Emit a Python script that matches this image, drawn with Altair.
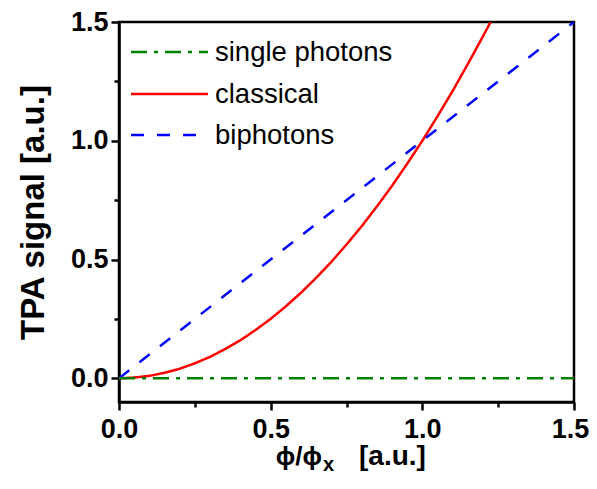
import altair as alt
import pandas as pd

# ---------------- data ----------------
series_names = ["single photons", "classical", "biphotons"]
series_colors = ["#008000", "#ff0000", "#0000ff"]
series_dashes = [[16, 7, 4, 7], [1, 0], [13, 13]]

single_x = [0.0, 1.5]
single_y = [0.0, 0.0]

classical_x = [0.0, 0.05, 0.1, 0.15, 0.2, 0.25, 0.3, 0.35, 0.4, 0.45, 0.5,
               0.55, 0.6, 0.65, 0.7, 0.75, 0.8, 0.85, 0.9, 0.95, 1.0,
               1.05, 1.1, 1.15, 1.2, 1.225]
classical_y = [0.0, 0.003, 0.01, 0.023, 0.04, 0.063, 0.09, 0.123, 0.16, 0.203, 0.25,
               0.303, 0.36, 0.423, 0.49, 0.563, 0.64, 0.723, 0.81, 0.903, 1.0,
               1.103, 1.21, 1.323, 1.44, 1.5]

biphoton_x = [0.0, 1.5]
biphoton_y = [0.0, 1.5]

x_ticks = [0.0, 0.25, 0.5, 0.75, 1.0, 1.25, 1.5]
y_ticks = [0.0, 0.25, 0.5, 0.75, 1.0, 1.25, 1.5]

x_domain = [0.0, 1.5]
y_domain = [-0.1, 1.5]

y_title = "TPA signal [a.u.]"
x_title_parts = ["\u03d5/\u03d5", "x", "[a.u.]"]

# ---------------- tables ----------------
rows = []
for xv, yv in zip(classical_x, classical_y):
    rows.append({"series": "classical", "x": xv, "y": yv})
for xv, yv in zip(biphoton_x, biphoton_y):
    rows.append({"series": "biphotons", "x": xv, "y": yv})
for xv, yv in zip(single_x, single_y):
    rows.append({"series": "single photons", "x": xv, "y": yv})
df = pd.DataFrame(rows)

FONT = "Liberation Sans"
LW = 2.5

color_scale = alt.Scale(domain=series_names, range=series_colors)
dash_scale = alt.Scale(domain=series_names, range=series_dashes)

minor_test = "datum.value % 0.5 !== 0"
label_expr = "datum.value % 0.5 === 0 ? format(datum.value, '.1f') : ''"

x_axis = alt.Axis(
    values=x_ticks, labelExpr=label_expr, title=None,
    tickSize={"condition": {"test": minor_test, "value": 5}, "value": 8},
    tickWidth=LW, tickColor="black", domainColor="black", domainWidth=LW,
    labelFont=FONT, labelFontSize=27, labelFontWeight="bold", labelColor="black",
    labelPadding=6, labelFlush=False, labelOverlap=False, grid=False,
    labelOffset={"condition": {"test": "datum.value === 1.5", "value": -4}, "value": 0},
)
y_axis = alt.Axis(
    values=y_ticks, labelExpr=label_expr, title=y_title,
    tickSize={"condition": {"test": minor_test, "value": 5}, "value": 8},
    tickWidth=LW, tickColor="black", domainColor="black", domainWidth=LW,
    labelFont=FONT, labelFontSize=27, labelFontWeight="bold", labelColor="black",
    labelPadding=3, labelFlush=False, labelOverlap=False, grid=False,
    titleFont=FONT, titleFontSize=33, titleFontWeight="bold", titleColor="black",
    titleX=-76, titleBaseline="alphabetic",
)

lines = alt.Chart(df).mark_line(strokeWidth=LW, clip=True).encode(
    x=alt.X("x:Q", scale=alt.Scale(domain=x_domain, nice=False, zero=False), axis=x_axis),
    y=alt.Y("y:Q", scale=alt.Scale(domain=y_domain, nice=False, zero=False), axis=y_axis),
    color=alt.Color("series:N", scale=color_scale, legend=None),
    strokeDash=alt.StrokeDash("series:N", scale=dash_scale, legend=None),
)

# ---------------- manual legend ----------------
legend_rows_y = [30, 72, 113]
layers = [lines]
for name, ry in zip(series_names, legend_rows_y):
    ld = pd.DataFrame({"series": [name]})
    layers.append(
        alt.Chart(ld).mark_rule(strokeWidth=LW).encode(
            x=alt.value(12), x2=alt.value(89), y=alt.value(ry),
            color=alt.Color("series:N", scale=color_scale, legend=None),
            strokeDash=alt.StrokeDash("series:N", scale=dash_scale, legend=None),
        )
    )
    layers.append(
        alt.Chart(ld).mark_text(align="left", baseline="middle", font=FONT,
                                fontSize=27.5, color="black").encode(
            x=alt.value(96), y=alt.value(ry + 1), text="series:N"
        )
    )

# ---------------- x-axis title with subscript ----------------
t1 = pd.DataFrame({"t": [x_title_parts[0]]})
t2 = pd.DataFrame({"t": [x_title_parts[1]]})
t3 = pd.DataFrame({"t": [x_title_parts[2]]})
layers.append(alt.Chart(t1).mark_text(align="right", baseline="alphabetic", font=FONT,
                                      fontSize=26, fontWeight="bold", color="black").encode(
    x=alt.value(203), y=alt.value(443), text="t:N"))
layers.append(alt.Chart(t2).mark_text(align="left", baseline="alphabetic", font=FONT,
                                      fontSize=20, fontWeight="bold", color="black").encode(
    x=alt.value(204), y=alt.value(449), text="t:N"))
layers.append(alt.Chart(t3).mark_text(align="left", baseline="alphabetic", font=FONT,
                                      fontSize=28, fontWeight="bold", color="black").encode(
    x=alt.value(240), y=alt.value(443), text="t:N"))

chart = alt.layer(*layers).properties(
    width=455, height=380,
    autosize=alt.AutoSizeParams(type="none"),
    padding={"left": 111, "top": 14, "right": 15, "bottom": 74},
    background="white",
).configure_view(stroke="black", strokeWidth=LW)

chart.save("out.html", embed_options={"renderer": "svg", "actions": False})
